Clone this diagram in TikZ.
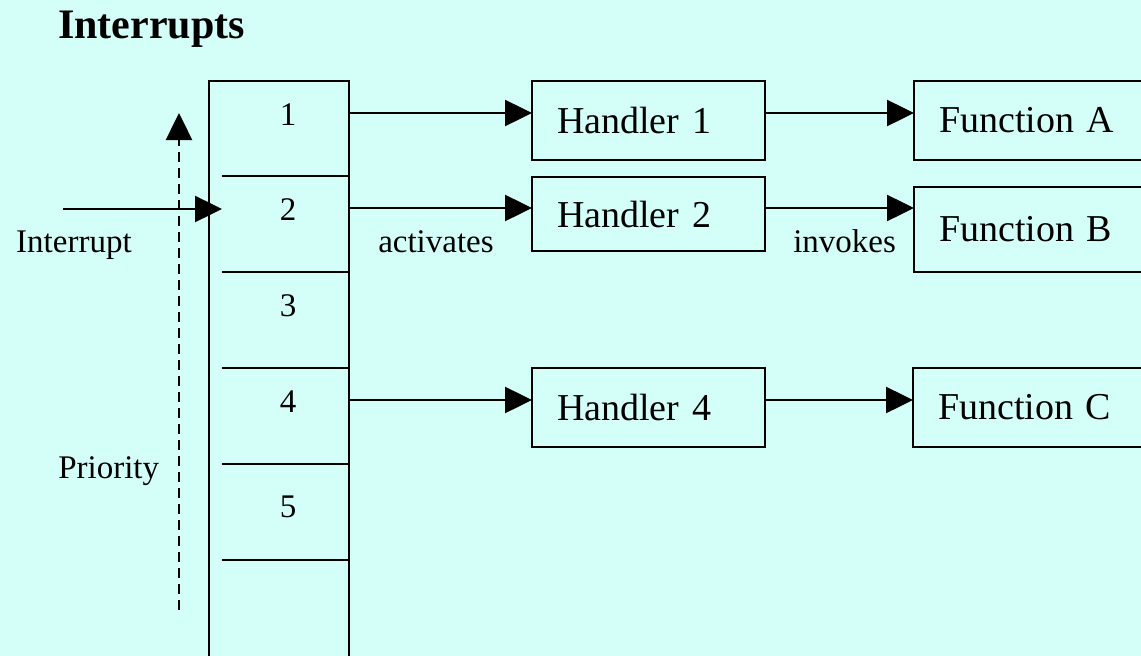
\documentclass[tikz,border=0pt]{standalone}
\usepackage{fontspec}
\setmainfont{Liberation Serif}
\usetikzlibrary{arrows.meta}
\definecolor{bgcyan}{RGB}{212,255,248}
\begin{document}
\begin{tikzpicture}[x=1pt,y=-1pt,
  line width=2.5pt,
  arr/.style={-{Triangle[length=27pt,width=26pt]}},
  boxnode/.style={draw, rectangle, outer sep=0pt, inner xsep=25pt, inner ysep=0pt,
    anchor=north west, align=left, font=\fontsize{38}{40}\selectfont},
  slotnum/.style={inner sep=0pt, font=\fontsize{33}{35}\selectfont},
  lbl/.style={inner sep=0pt, anchor=base west, font=\fontsize{33}{35}\selectfont}]
\useasboundingbox (0,0) rectangle (1141,656);
\clip (0,0) rectangle (1141,656);
\fill[bgcyan] (0,0) rectangle (1141,656);

% title
\node[inner sep=0pt, anchor=base west, font=\fontsize{42}{44}\selectfont\bfseries] (title) at (57,38) {Interrupts};

% priority stack
\node[draw, rectangle, outer sep=0pt, anchor=north west, minimum width=140pt, minimum height=640pt] (stack) at (209,81) {};
\foreach \y in {176,272,368,464,560}
  \draw (222,\y) -- (349,\y);
\node[slotnum] (n1) at (288,114.5) {1};
\node[slotnum] (n2) at (288,209.5) {2};
\node[slotnum] (n3) at (288,305.5) {3};
\node[slotnum] (n4) at (288,401.5) {4};
\node[slotnum] (n5) at (288,507) {5};

% handlers
\node[boxnode, text width=183pt, minimum height=79pt] (h1) at (532,81) {Handler 1};
\node[boxnode, text width=183pt, minimum height=74pt] (h2) at (532,177) {Handler 2};
\node[boxnode, text width=183pt, minimum height=79pt] (h4) at (532,368) {Handler 4};

% functions
\node[boxnode, text width=220pt, minimum height=79pt] (fa) at (914,81) {Function A};
\node[boxnode, text width=220pt, minimum height=85pt] (fb) at (914,187) {Function B};
\node[boxnode, text width=220pt, minimum height=79pt] (fc) at (913,368) {Function C};

% connector end points on the stack and handlers
\coordinate (s1) at (349,113);
\coordinate (s2) at (349,208);
\coordinate (s4) at (349,400);
\coordinate (e1) at (765,113);
\coordinate (e2) at (765,208);
\coordinate (e4) at (765,400);

\draw[arr] (s1) -- (s1 -| h1.west);
\draw[arr] (s2) -- (s2 -| h2.west);
\draw[arr] (s4) -- (s4 -| h4.west);
\draw[arr] (e1) -- (e1 -| fa.west);
\draw[arr] (e2) -- (e2 -| fb.west);
\draw[arr] (e4) -- (e4 -| fc.west);

% incoming interrupt
\coordinate (irqin) at (63,209);
\coordinate (irqtip) at (222,209);
\draw[arr] (irqin) -- (irqtip);

% priority direction
\coordinate (plow) at (179,610);
\coordinate (phigh) at (179,113);
\draw[arr, dash pattern=on 10pt off 6pt] (plow) -- (phigh);

% labels
\node[lbl] (linterrupt) at (15,252) {Interrupt};
\node[lbl] (lactivates) at (377,252) {activates};
\node[lbl] (linvokes) at (792,252) {invokes};
\node[lbl] (lpriority) at (57,478) {Priority};
\end{tikzpicture}
\end{document}
